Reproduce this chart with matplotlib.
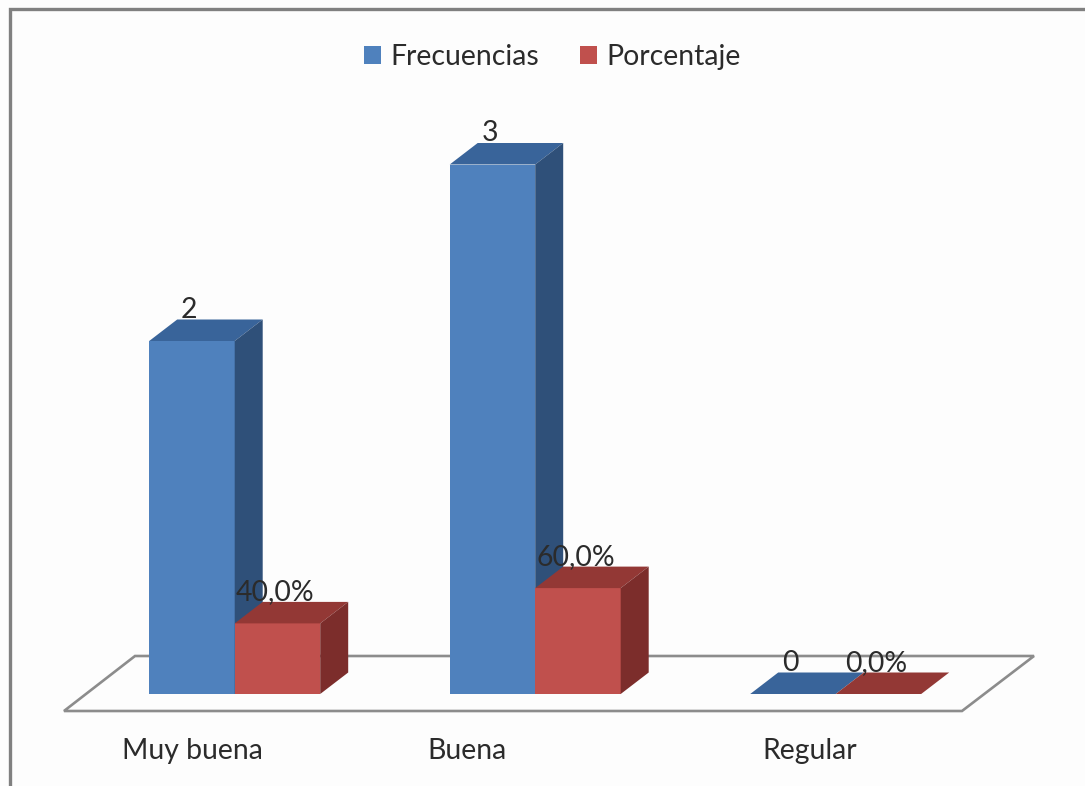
import matplotlib
matplotlib.use("Agg")
import matplotlib.pyplot as plt
from matplotlib.lines import Line2D
from matplotlib.patches import Polygon

categories = ["Muy buena", "Buena", "Regular"]
frecuencias = [2, 3, 0]
porcentaje = [0.40, 0.60, 0.0]
frecuencias_labels = ["2", "3", "0"]
porcentaje_labels = ["40,0%", "60,0%", "0,0%"]

W, H = 1085, 786
X0, Y0 = 234.7, 694    # pixel position of category 0 at value 0
XSCALE, YSCALE = 300.5, 176.5
BAR_W = 85.5 / XSCALE
DX, DY = 28 / XSCALE, 21.5 / YSCALE
FONT = 20.4

BLUE = ("#4f81bd", "#39649a", "#2f5079")
RED = ("#c0504d", "#933835", "#7c2d2b")
GREY = "#8c8c8c"
TEXT = "#2b2b2b"


def xd(px):
    return (px - X0) / XSCALE


def yd(py):
    return (Y0 - py) / YSCALE


def bars_3d(ax, lefts, values, colors, label):
    # front faces go through bar(), top and side faces are offset from them
    bars = ax.bar(lefts, values, BAR_W, align="edge", color=colors[0],
                  label=label, zorder=3)
    for left, val in zip(lefts, values):
        right = left + BAR_W
        top = [(left, val), (right, val), (right + DX, val + DY), (left + DX, val + DY)]
        ax.add_patch(Polygon(top, closed=True, fc=colors[1], ec="none", zorder=3))
        if val > 0:
            side = [(right, 0), (right + DX, DY), (right + DX, val + DY), (right, val)]
            ax.add_patch(Polygon(side, closed=True, fc=colors[2], ec="none", zorder=3))
    return bars


def main():
    plt.rcParams["font.family"] = ["Lato", "DejaVu Sans"]
    fig = plt.figure(figsize=(W / 100, H / 100), dpi=100, facecolor="#fdfdfd")
    ax = fig.add_axes([0, 0, 1, 1])
    ax.set_xlim(xd(0), xd(W))
    ax.set_ylim(yd(H), yd(0))
    ax.axis("off")

    # floor of the 3d chart
    floor = [(xd(64), yd(711)), (xd(962), yd(711)), (xd(1034), yd(656)), (xd(135), yd(656))]
    ax.add_patch(Polygon(floor, closed=True, fc="#fdfdfd", ec=GREY, lw=1.9, zorder=1))

    pos = list(range(len(categories)))
    blue_left = [p - BAR_W for p in pos]
    bars_3d(ax, blue_left, frecuencias, BLUE, "Frecuencias")
    bars_3d(ax, pos, porcentaje, RED, "Porcentaje")

    # value labels sit a fixed distance above the front face
    for left, val, lab in zip(blue_left, frecuencias, frecuencias_labels):
        ax.annotate(lab, (left + BAR_W / 2, val), xytext=(-2, 22.5), textcoords="offset points",
                    ha="center", va="center", fontsize=FONT, color=TEXT, zorder=5)
    for left, val, lab in zip(pos, porcentaje, porcentaje_labels):
        ax.annotate(lab, (left + BAR_W / 2, val), xytext=(-1.5, 22.5), textcoords="offset points",
                    ha="center", va="center", fontsize=FONT, color=TEXT, zorder=5)

    label_px = [192, 467, 810]
    for px, name in zip(label_px, categories):
        ax.text(xd(px), yd(751), name, ha="center", va="center", fontsize=FONT, color=TEXT)

    ax.legend(loc="center", bbox_to_anchor=(552.5 / W, 1 - 57 / H), ncol=2, frameon=False,
              fontsize=FONT, handlelength=0.6, handleheight=0.6, handletextpad=0.33,
              columnspacing=1.45, labelcolor=TEXT)

    # chart area border, only the left and top edges fall inside the image
    frame = Line2D([10 / W, 10 / W, 1], [0, 1 - 9 / H, 1 - 9 / H], transform=fig.transFigure,
                   color="#808080", lw=2.4, solid_joinstyle="miter")
    fig.add_artist(frame)

    fig.savefig("out.png", dpi=100, facecolor=fig.get_facecolor())


if __name__ == "__main__":
    main()
